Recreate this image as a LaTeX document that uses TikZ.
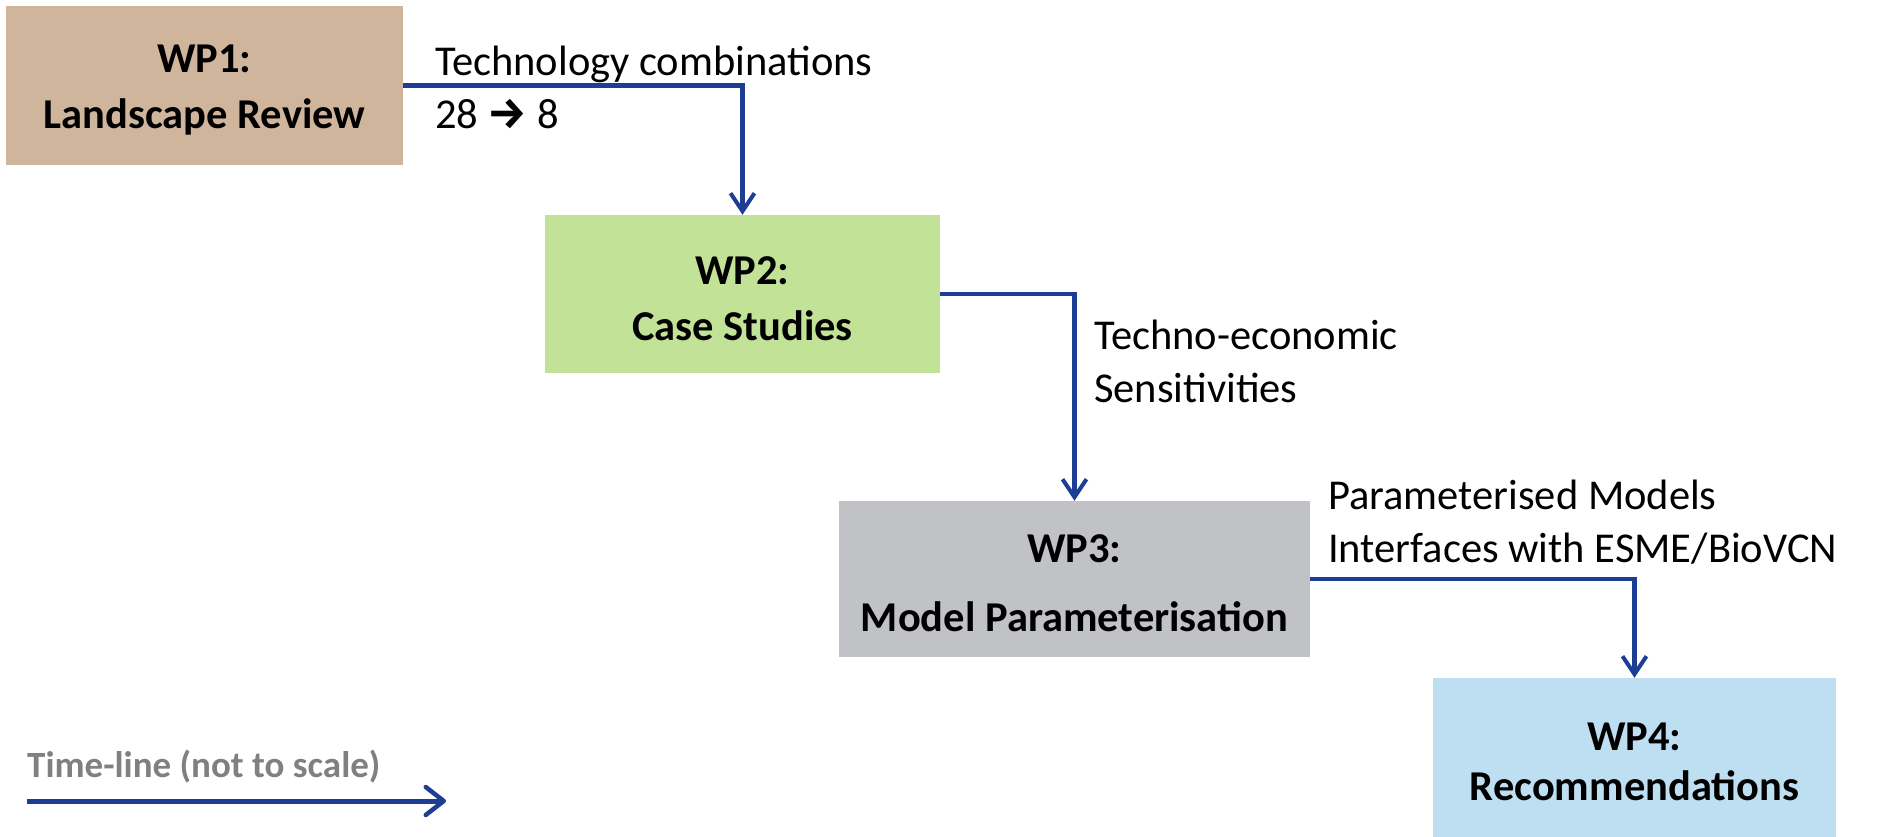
\documentclass[tikz,border=0pt]{standalone}
\usepackage{fontspec}
\setmainfont{Carlito}
\newfontfamily\arrowfont{Fira Sans}
\usetikzlibrary{arrows.meta}
\definecolor{wpone}{RGB}{207,181,155}
\definecolor{wptwo}{RGB}{194,226,152}
\definecolor{wpthree}{RGB}{193,194,198}
\definecolor{wpfour}{RGB}{190,222,242}
\definecolor{flow}{RGB}{30,62,150}
\definecolor{note}{RGB}{128,128,128}
\tikzset{
  wpbox/.style={draw=none, inner sep=0pt},
  wptext/.style={inner sep=0pt, align=center, yshift=-4.5pt},
  flowarrow/.style={draw=flow, line width=4.5pt, -{Straight Barb[length=18pt,width=24pt,line width=4pt]}},
  flowlabel/.style={inner sep=0pt, anchor=west, align=left, font=\fontsize{42.5}{53}\selectfont},
}
\begin{document}
\begin{tikzpicture}[x=1pt,y=-1pt]
\useasboundingbox (0,0) rectangle (1893,837);

% work-package boxes
\node[wpbox, fill=wpone, minimum width=397pt, minimum height=159pt] (wp1) at (204.5,85.5) {};
\node[wpbox, fill=wptwo, minimum width=395pt, minimum height=158pt] (wp2) at (742.5,294) {};
\node[wpbox, fill=wpthree, minimum width=471pt, minimum height=156pt] (wp3) at (1074.5,579) {};
\node[wpbox, fill=wpfour, minimum width=403pt, minimum height=159pt] (wp4) at (1634.5,757.5) {};

% their titles
\node[wptext, font=\bfseries\fontsize{42.5}{56}\selectfont] (wp1t) at (wp1.center) {WP1:\\Landscape Review};
\node[wptext, font=\bfseries\fontsize{42.5}{56}\selectfont] (wp2t) at (wp2.center) {WP2:\\Case Studies};
\node[wptext, font=\bfseries\fontsize{42.5}{69}\selectfont] (wp3t) at (wp3.center) {WP3:\\Model Parameterisation};
\node[wptext, font=\bfseries\fontsize{42.5}{50}\selectfont] (wp4t) at (wp4.center) {WP4:\\Recommendations};

% hand-over arrows between the packages
\draw[flowarrow] (wp1.east) -| (wp2.north);
\draw[flowarrow] (wp2.east) -| (wp3.north);
\draw[flowarrow] (wp3.east) -| (wp4.north);

% what is handed over
\node[flowlabel] (l1) at (435,87) {Technology combinations\\28 {\arrowfont\bfseries\fontsize{44}{53}\selectfont→} 8};
\node[flowlabel] (l2) at (1094,361) {Techno-economic\\Sensitivities};
\node[flowlabel] (l3) at (1328,522) {Parameterised Models\\Interfaces with ESME/BioVCN};

% time-line key
\node[inner sep=0pt, anchor=west, text=note, font=\bfseries\fontsize{37}{40}\selectfont] (tl) at (27,767) {Time-line (not to scale)};
\coordinate (ts) at (27,801);
\coordinate (te) at (446,801);
\draw[draw=flow, line width=5pt, -{Straight Barb[length=18pt,width=28pt,line width=4.5pt,round]}] (ts) -- (te);
\end{tikzpicture}
\end{document}
